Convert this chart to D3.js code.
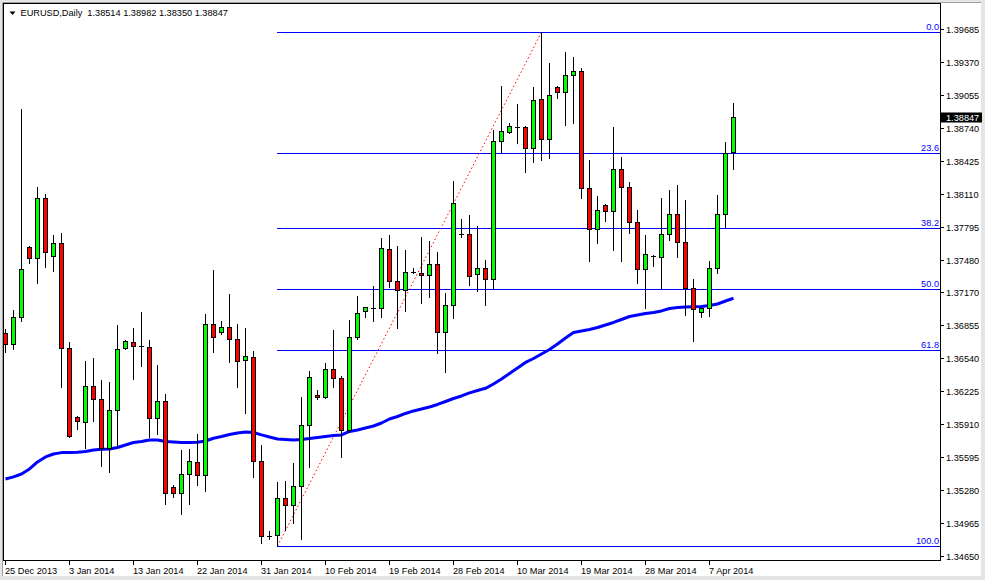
<!DOCTYPE html>
<html><head><meta charset="utf-8">
<script src="https://cdn.jsdelivr.net/npm/d3@7"></script>
<style>html,body{margin:0;padding:0;background:#fff;overflow:hidden}</style>
</head><body><svg id="c" width="985" height="580"></svg>
<script>
const symbol = "EURUSD";
const period = "Daily";
const dates = ["2013-12-25","2013-12-26","2013-12-27","2013-12-29","2013-12-30","2013-12-31","2014-01-01","2014-01-02","2014-01-03",
"2014-01-05","2014-01-06","2014-01-07","2014-01-08","2014-01-09","2014-01-10","2014-01-12","2014-01-13","2014-01-14","2014-01-15","2014-01-16","2014-01-17",
"2014-01-19","2014-01-20","2014-01-21","2014-01-22","2014-01-23","2014-01-24","2014-01-26","2014-01-27","2014-01-28","2014-01-29","2014-01-30","2014-01-31",
"2014-02-02","2014-02-03","2014-02-04","2014-02-05","2014-02-06","2014-02-07","2014-02-09","2014-02-10","2014-02-11","2014-02-12","2014-02-13","2014-02-14",
"2014-02-16","2014-02-17","2014-02-18","2014-02-19","2014-02-20","2014-02-21","2014-02-23","2014-02-24","2014-02-25","2014-02-26","2014-02-27","2014-02-28",
"2014-03-02","2014-03-03","2014-03-04","2014-03-05","2014-03-06","2014-03-07","2014-03-09","2014-03-10","2014-03-11","2014-03-12","2014-03-13","2014-03-14",
"2014-03-16","2014-03-17","2014-03-18","2014-03-19","2014-03-20","2014-03-21","2014-03-23","2014-03-24","2014-03-25","2014-03-26","2014-03-27","2014-03-28",
"2014-03-30","2014-03-31","2014-04-01","2014-04-02","2014-04-03","2014-04-04","2014-04-06","2014-04-07","2014-04-08","2014-04-09","2014-04-10"];
const open = [1.36782,1.36677,1.36935,1.37604,1.37499,1.38071,1.37518,1.37642,1.36639,
1.35980,1.35933,1.36276,1.36152,1.35684,1.36047,1.36639,1.36697,1.36658,1.36649,1.35971,1.36133,
1.35312,1.35255,1.35436,1.35551,1.35427,1.36868,1.36792,1.36840,1.36725,1.36525,1.36553,1.35560,
1.34844,1.34854,1.35207,1.35140,1.35322,1.35904,1.36190,1.36171,1.36439,1.36353,1.35856,1.36744,
1.36993,1.37021,1.37021,1.37584,1.37279,1.37193,1.37365,1.37355,1.37336,1.37441,1.36792,1.37050,
1.37728,1.37728,1.37346,1.37403,1.37298,1.38616,1.38702,1.38749,1.38749,1.38549,1.39017,1.38635,
1.39131,1.39084,1.39246,1.39284,1.38167,1.37775,1.38005,1.37947,1.38348,1.38176,1.37842,1.37394,
1.37518,1.37508,1.37728,1.37919,1.37651,1.37212,1.36983,1.37021,1.37403,1.37919,1.38514];
const high = [1.36821,1.37002,1.38921,1.37610,1.38176,1.38110,1.37718,1.37737,1.36697,
1.35985,1.36515,1.36544,1.36334,1.36315,1.36859,1.36716,1.36830,1.36983,1.36716,1.36477,1.36200,
1.35331,1.35665,1.35675,1.35818,1.36964,1.37384,1.36897,1.37155,1.36868,1.36830,1.36611,1.35713,
1.34892,1.35360,1.35369,1.35541,1.36171,1.36420,1.36238,1.36496,1.36811,1.36372,1.36907,1.37136,
1.37035,1.37231,1.37690,1.37718,1.37613,1.37575,1.37403,1.37699,1.37661,1.37556,1.37164,1.38234,
1.37871,1.37909,1.37804,1.37479,1.38721,1.39141,1.38788,1.38969,1.38759,1.39131,1.39654,1.39360,
1.39141,1.39465,1.39418,1.39313,1.38434,1.38091,1.38010,1.38749,1.38463,1.38224,1.37957,1.37718,
1.37525,1.38071,1.38148,1.38196,1.38052,1.37298,1.37021,1.37470,1.38100,1.38606,1.38982];
const low = [1.36601,1.36630,1.36897,1.37451,1.37260,1.37413,1.37374,1.36267,1.35790,
1.35866,1.35684,1.35942,1.35513,1.35455,1.35694,1.36625,1.36343,1.36467,1.35789,1.35818,1.35150,
1.35217,1.35054,1.35150,1.35331,1.35274,1.36601,1.36773,1.36506,1.36267,1.36019,1.35408,1.34777,
1.34816,1.34749,1.34902,1.34968,1.34816,1.35503,1.36152,1.36165,1.36267,1.35599,1.35837,1.36725,
1.36935,1.36897,1.36935,1.37222,1.36830,1.36993,1.37355,1.37069,1.37126,1.36591,1.36410,1.36926,
1.37699,1.37241,1.37183,1.37050,1.37203,1.38501,1.38692,1.38597,1.38320,1.38415,1.38434,1.38453,
1.39026,1.38768,1.38788,1.38071,1.37470,1.37642,1.37852,1.37575,1.37470,1.37737,1.37260,1.37021,
1.37422,1.37203,1.37670,1.37508,1.36954,1.36706,1.36935,1.36945,1.37355,1.37785,1.38350];
const close = [1.36677,1.36935,1.37394,1.37499,1.38071,1.37556,1.37642,1.36639,1.35799,
1.35942,1.36276,1.36152,1.35684,1.36047,1.36630,1.36706,1.36658,1.36660,1.35971,1.36133,1.35255,
1.35255,1.35436,1.35560,1.35427,1.36868,1.36744,1.36840,1.36725,1.36515,1.36563,1.35560,1.34844,
1.34847,1.35207,1.35140,1.35322,1.35904,1.36362,1.36171,1.36439,1.36353,1.35856,1.36744,1.36973,
1.37031,1.37021,1.37594,1.37279,1.37193,1.37365,1.37360,1.37336,1.37441,1.36792,1.37050,1.38024,
1.37725,1.37327,1.37403,1.37298,1.38616,1.38711,1.38759,1.38747,1.38549,1.39007,1.38635,1.39055,
1.39084,1.39246,1.39284,1.38167,1.37775,1.37957,1.37947,1.38348,1.38176,1.37842,1.37394,1.37537,
1.37518,1.37728,1.37919,1.37651,1.37212,1.37012,1.37018,1.37403,1.37919,1.38501,1.38847];
const movingAverage = [1.35388,1.35408,1.35436,1.35484,1.35551,1.35599,1.35627,1.35640,1.35641,
1.35643,1.35651,1.35665,1.35672,1.35675,1.35689,1.35713,1.35737,1.35746,1.35761,1.35761,1.35746,
1.35742,1.35737,1.35737,1.35739,1.35751,1.35777,1.35794,1.35813,1.35828,1.35837,1.35832,1.35809,
1.35789,1.35770,1.35766,1.35761,1.35766,1.35775,1.35785,1.35794,1.35804,1.35809,1.35842,1.35856,
1.35875,1.35894,1.35923,1.35961,1.35985,1.36014,1.36038,1.36057,1.36076,1.36100,1.36128,1.36157,
1.36181,1.36210,1.36233,1.36254,1.36295,1.36343,1.36396,1.36448,1.36501,1.36539,1.36582,1.36625,
1.36677,1.36735,1.36787,1.36802,1.36816,1.36835,1.36859,1.36883,1.36911,1.36940,1.36954,1.36969,
1.36978,1.36993,1.37016,1.37026,1.37031,1.37034,1.37035,1.37045,1.37059,1.37088,1.37114];
const priceTicks = [1.34650,1.34965,1.35280,1.35595,1.35910,1.36225,1.36540,1.36855,1.37170,
1.37480,1.37795,1.38110,1.38425,1.38740,1.39055,1.39370,1.39685];
const dateTicks = ["2013-12-25","2014-01-03","2014-01-13","2014-01-22","2014-01-31","2014-02-10",
"2014-02-19","2014-02-28","2014-03-10","2014-03-19","2014-03-28","2014-04-07"];
const fibLevels = [0.0, 23.6, 38.2, 50.0, 61.8, 100.0];
const fibFrom = "2014-02-03", fibTo = "2014-03-13";

const FONT = "'Liberation Sans', Arial, sans-serif";
const FS = "9.2px";
const svg = d3.select("#c");
const L = 4, T = 4, R = 940, B = 560;

// frame
svg.append("rect").attr("width",985).attr("height",580).attr("fill","#e4e4e4");
svg.append("rect").attr("x",2).attr("y",2).attr("width",979).attr("height",574).attr("fill","#fff");
svg.append("path").attr("d","M2.5,576V2.5H981").attr("fill","none").attr("stroke","#a0a0a0");

const x = d3.scalePoint().domain(dates).range([5.5, 733.5]);
const y = d3.scaleLinear().domain([1.34650, 1.39685]).range([556.3, 29]);
const py = v => Math.round(y(v));

svg.append("defs").append("clipPath").attr("id","plot")
  .append("rect").attr("x",L).attr("y",T).attr("width",R-L).attr("height",B-T);
const g = svg.append("g").attr("clip-path","url(#plot)");

// fibonacci
const i0 = dates.indexOf(fibFrom), i1 = dates.indexOf(fibTo);
const fLow = low[i0], fHigh = high[i1];
const fg = g.append("g");
fibLevels.forEach(r => {
  const v = fHigh - (fHigh - fLow) * r / 100;
  const yy = py(v) + 0.5;
  fg.append("line").attr("x1", x(fibFrom) - 0.5).attr("x2", R).attr("y1", yy).attr("y2", yy)
    .attr("stroke","#0000ff").attr("stroke-width",1);
  fg.append("text").attr("x", 939).attr("y", yy - 3).attr("text-anchor","end")
    .attr("font-family",FONT).attr("font-size",FS).attr("fill","#0000ff").text(r.toFixed(1));
});
fg.append("line").attr("x1", x(fibFrom)).attr("y1", y(fLow)).attr("x2", x(fibTo)).attr("y2", y(fHigh))
  .attr("stroke","#ff0000").attr("stroke-width",1).attr("stroke-dasharray","1.5,2.5");

// moving average
g.append("path").datum(movingAverage)
  .attr("d", d3.line().x((d,i) => x(dates[i])).y(d => y(d)))
  .attr("fill","none").attr("stroke","#0000ff").attr("stroke-width",3).attr("stroke-linejoin","round");

// candles
const cg = g.append("g");
dates.forEach((d,i) => {
  const cx = x(d);
  cg.append("line").attr("x1",cx).attr("x2",cx).attr("y1",py(high[i])).attr("y2",py(low[i])+1)
    .attr("stroke","#000").attr("stroke-width",1);
  const top = py(Math.max(open[i],close[i])), bot = py(Math.min(open[i],close[i]));
  if (bot - top < 1) {
    cg.append("line").attr("x1",cx-2.5).attr("x2",cx+2.5).attr("y1",top+0.5).attr("y2",top+0.5)
      .attr("stroke","#000").attr("stroke-width",1);
  } else {
    cg.append("rect").attr("x",cx-2).attr("y",top+0.5).attr("width",4).attr("height",bot-top)
      .attr("fill", close[i] >= open[i] ? "#00ff00" : "#ff0000")
      .attr("stroke","#000").attr("stroke-width",1);
  }
});

// plot border
svg.append("rect").attr("x",L-0.5).attr("y",T-0.5).attr("width",R-L+1).attr("height",B-T+1)
  .attr("fill","none").attr("stroke","#000").attr("stroke-width",1);

// price axis
const fmt = d3.format(".5f");
const ya = svg.append("g");
priceTicks.forEach(v => {
  const yy = py(v) + 0.5;
  ya.append("line").attr("x1",R).attr("x2",R+4).attr("y1",yy).attr("y2",yy).attr("stroke","#000");
  ya.append("text").attr("x",946).attr("y",yy+3.5).attr("font-family",FONT).attr("font-size",FS)
    .attr("fill","#000").text(fmt(v));
});
// current price marker
const last = close[close.length-1];
const ly = y(last);
ya.append("rect").attr("x",941).attr("y",Math.round(ly)-4.5).attr("width",41).attr("height",10).attr("fill","#000");
ya.append("text").attr("x",946).attr("y",Math.round(ly)+4).attr("font-family",FONT).attr("font-size",FS)
  .attr("fill","#fff").text(fmt(last));

// date axis
const parse = d3.timeParse("%Y-%m-%d"), tf = d3.timeFormat("%-d %b %Y");
const xa = svg.append("g");
dateTicks.forEach(d => {
  const cx = Math.floor(x(d)) + 0.5;
  xa.append("line").attr("x1",cx).attr("x2",cx).attr("y1",B+1).attr("y2",B+5).attr("stroke","#000");
  xa.append("text").attr("x",cx-0.5).attr("y",573.5).attr("font-family",FONT).attr("font-size",FS)
    .attr("fill","#000").text(tf(parse(d)));
});

// header
const n = close.length - 1;
svg.append("path").attr("d","M9.5,11.5H15.5L12.5,15Z").attr("fill","#000");
svg.append("text").attr("x",20.5).attr("y",16).attr("font-family",FONT).attr("font-size",FS)
  .attr("fill","#000").style("white-space","pre")
  .text(`${symbol},${period}  ${fmt(open[n])} ${fmt(high[n])} ${fmt(low[n])} ${fmt(close[n])}`);
</script></body></html>
